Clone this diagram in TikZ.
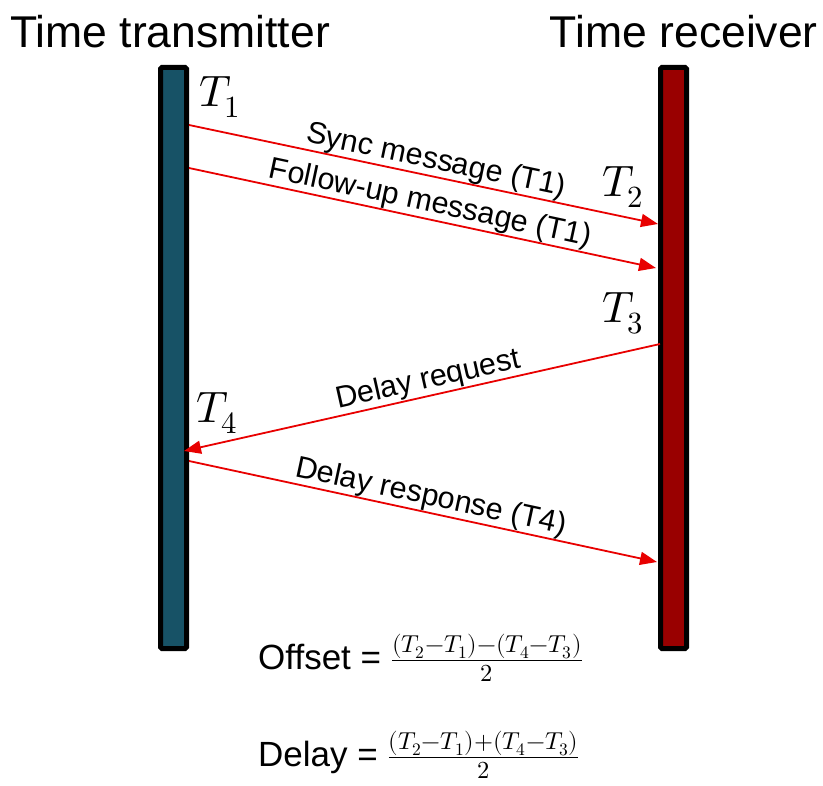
\documentclass[tikz,border=0pt]{standalone}
\usepackage{fontspec}
\usepackage{unicode-math}
\setmainfont{Liberation Sans}
\usetikzlibrary{arrows.meta}
\definecolor{txfill}{RGB}{23,82,102}
\definecolor{rxfill}{RGB}{153,0,0}
\definecolor{msgred}{RGB}{232,0,0}
\tikzset{
  x=1pt, y=-1pt,
  timebar/.style={draw=black, line width=5pt, rounded corners=1.5pt},
  msg/.style={draw=msgred, line width=1.8pt, -{Triangle[length=17pt,width=13pt]}},
  msglabel/.style={sloped, above, inner sep=1pt, font=\fontsize{30.5}{34}\selectfont},
  stamp/.style={anchor=base west, inner sep=0pt, font=\fontsize{44}{48}\selectfont},
  title/.style={inner sep=0pt, font=\fontsize{44.5}{50}\selectfont},
  formula/.style={anchor=base west, inner sep=0pt, font=\fontsize{35}{40}\selectfont}
}
\begin{document}
\begin{tikzpicture}
\useasboundingbox (0,0) rectangle (823,786);

% the two clocks
\path[timebar, fill=txfill] (160.5,67.5) rectangle (186.5,648.5);
\path[timebar, fill=rxfill] (660.5,67.5) rectangle (686.5,648.5);

\node[title, anchor=base west] (ttitle) at (10,48) {Time transmitter};
\node[title, anchor=base east] (rtitle) at (818,48) {Time receiver};

% message end points on the clock edges
\coordinate (s1) at (189,125);
\coordinate (e1) at (658,224);
\coordinate (s2) at (189,168);
\coordinate (e2) at (656,268);
\coordinate (s3) at (660,344);
\coordinate (e3) at (184,451);
\coordinate (s4) at (189,461);
\coordinate (e4) at (657,562);

\draw[msg] (s1) -- (e1);
\draw[msg] (s2) -- (e2);
\draw[msg] (s3) -- (e3);
\draw[msg] (s4) -- (e4);

\path (s1) -- (e1) node[msglabel, pos=0.52] (l1) {Sync message (T1)};
\path (s2) -- (e2) node[msglabel, pos=0.51] (l2) {Follow-up message (T1)};
\path (e3) -- (s3) node[msglabel, pos=0.52] (l3) {Delay request};
\path (s4) -- (e4) node[msglabel, pos=0.51] (l4) {Delay response (T4)};

% timestamps
\node[stamp] (t1) at (199,107) {$T_1$};
\node[stamp] (t2) at (602,197) {$T_2$};
\node[stamp] (t3) at (602,323) {$T_3$};
\node[stamp] (t4) at (196,423) {$T_4$};

% results
\node[formula] (off) at (258,669) {Offset = $\frac{(T_2-T_1)-(T_4-T_3)}{2}$};
\node[formula] (del) at (258,766) {Delay = $\frac{(T_2-T_1)+(T_4-T_3)}{2}$};
\end{tikzpicture}
\end{document}
